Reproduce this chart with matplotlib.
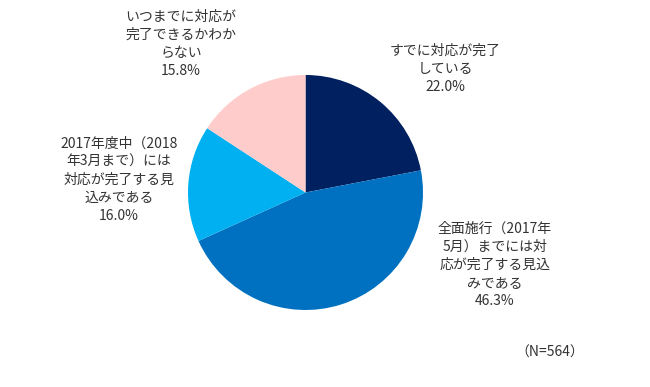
import matplotlib
matplotlib.use("Agg")
import matplotlib.pyplot as plt

plt.rcParams['font.family'] = ['Noto Sans CJK JP', 'DejaVu Sans']

# 回答の内訳 (N=564)
labels = ["すでに対応が完了\nしている",
          "全面施行（2017年\n5月）までには対\n応が完了する見込\nみである",
          "2017年度中（2018\n年3月まで）には\n対応が完了する見\n込みである",
          "いつまでに対応が\n完了できるかわか\nらない"]
shares = [22.0, 46.3, 16.0, 15.8]
colors = ["#002060", "#0070C0", "#00B0F0", "#FFCCCC"]

# ラベル位置 (ピクセル, 上原点)
label_xy = [(445, 69), (495, 265), (119, 180), (181, 44)]

W, H = 650, 387
fig = plt.figure(figsize=(W / 100, H / 100), dpi=100)
ax = fig.add_axes([0, 0, 1, 1])

ax.pie(shares, colors=colors, startangle=90, counterclock=False,
       center=(305.5, H - 192.5), radius=117.5,
       wedgeprops=dict(linewidth=0))

# pie() が軸範囲を上書きするので後で設定
ax.set_xlim(0, W)
ax.set_ylim(0, H)
ax.set_aspect("equal")
ax.axis("off")

for lab, v, (x, y) in zip(labels, shares, label_xy):
    ax.text(x, H - y, f"{lab}\n{v:.1f}%", ha="center", va="center",
            multialignment="center", fontsize=10, color="#333333",
            linespacing=1.36)

ax.text(550, H - 353, "（N=564）", ha="center", va="center",
        fontsize=10, color="#333333")

fig.savefig("out.png", dpi=100, facecolor="white")
plt.close(fig)
